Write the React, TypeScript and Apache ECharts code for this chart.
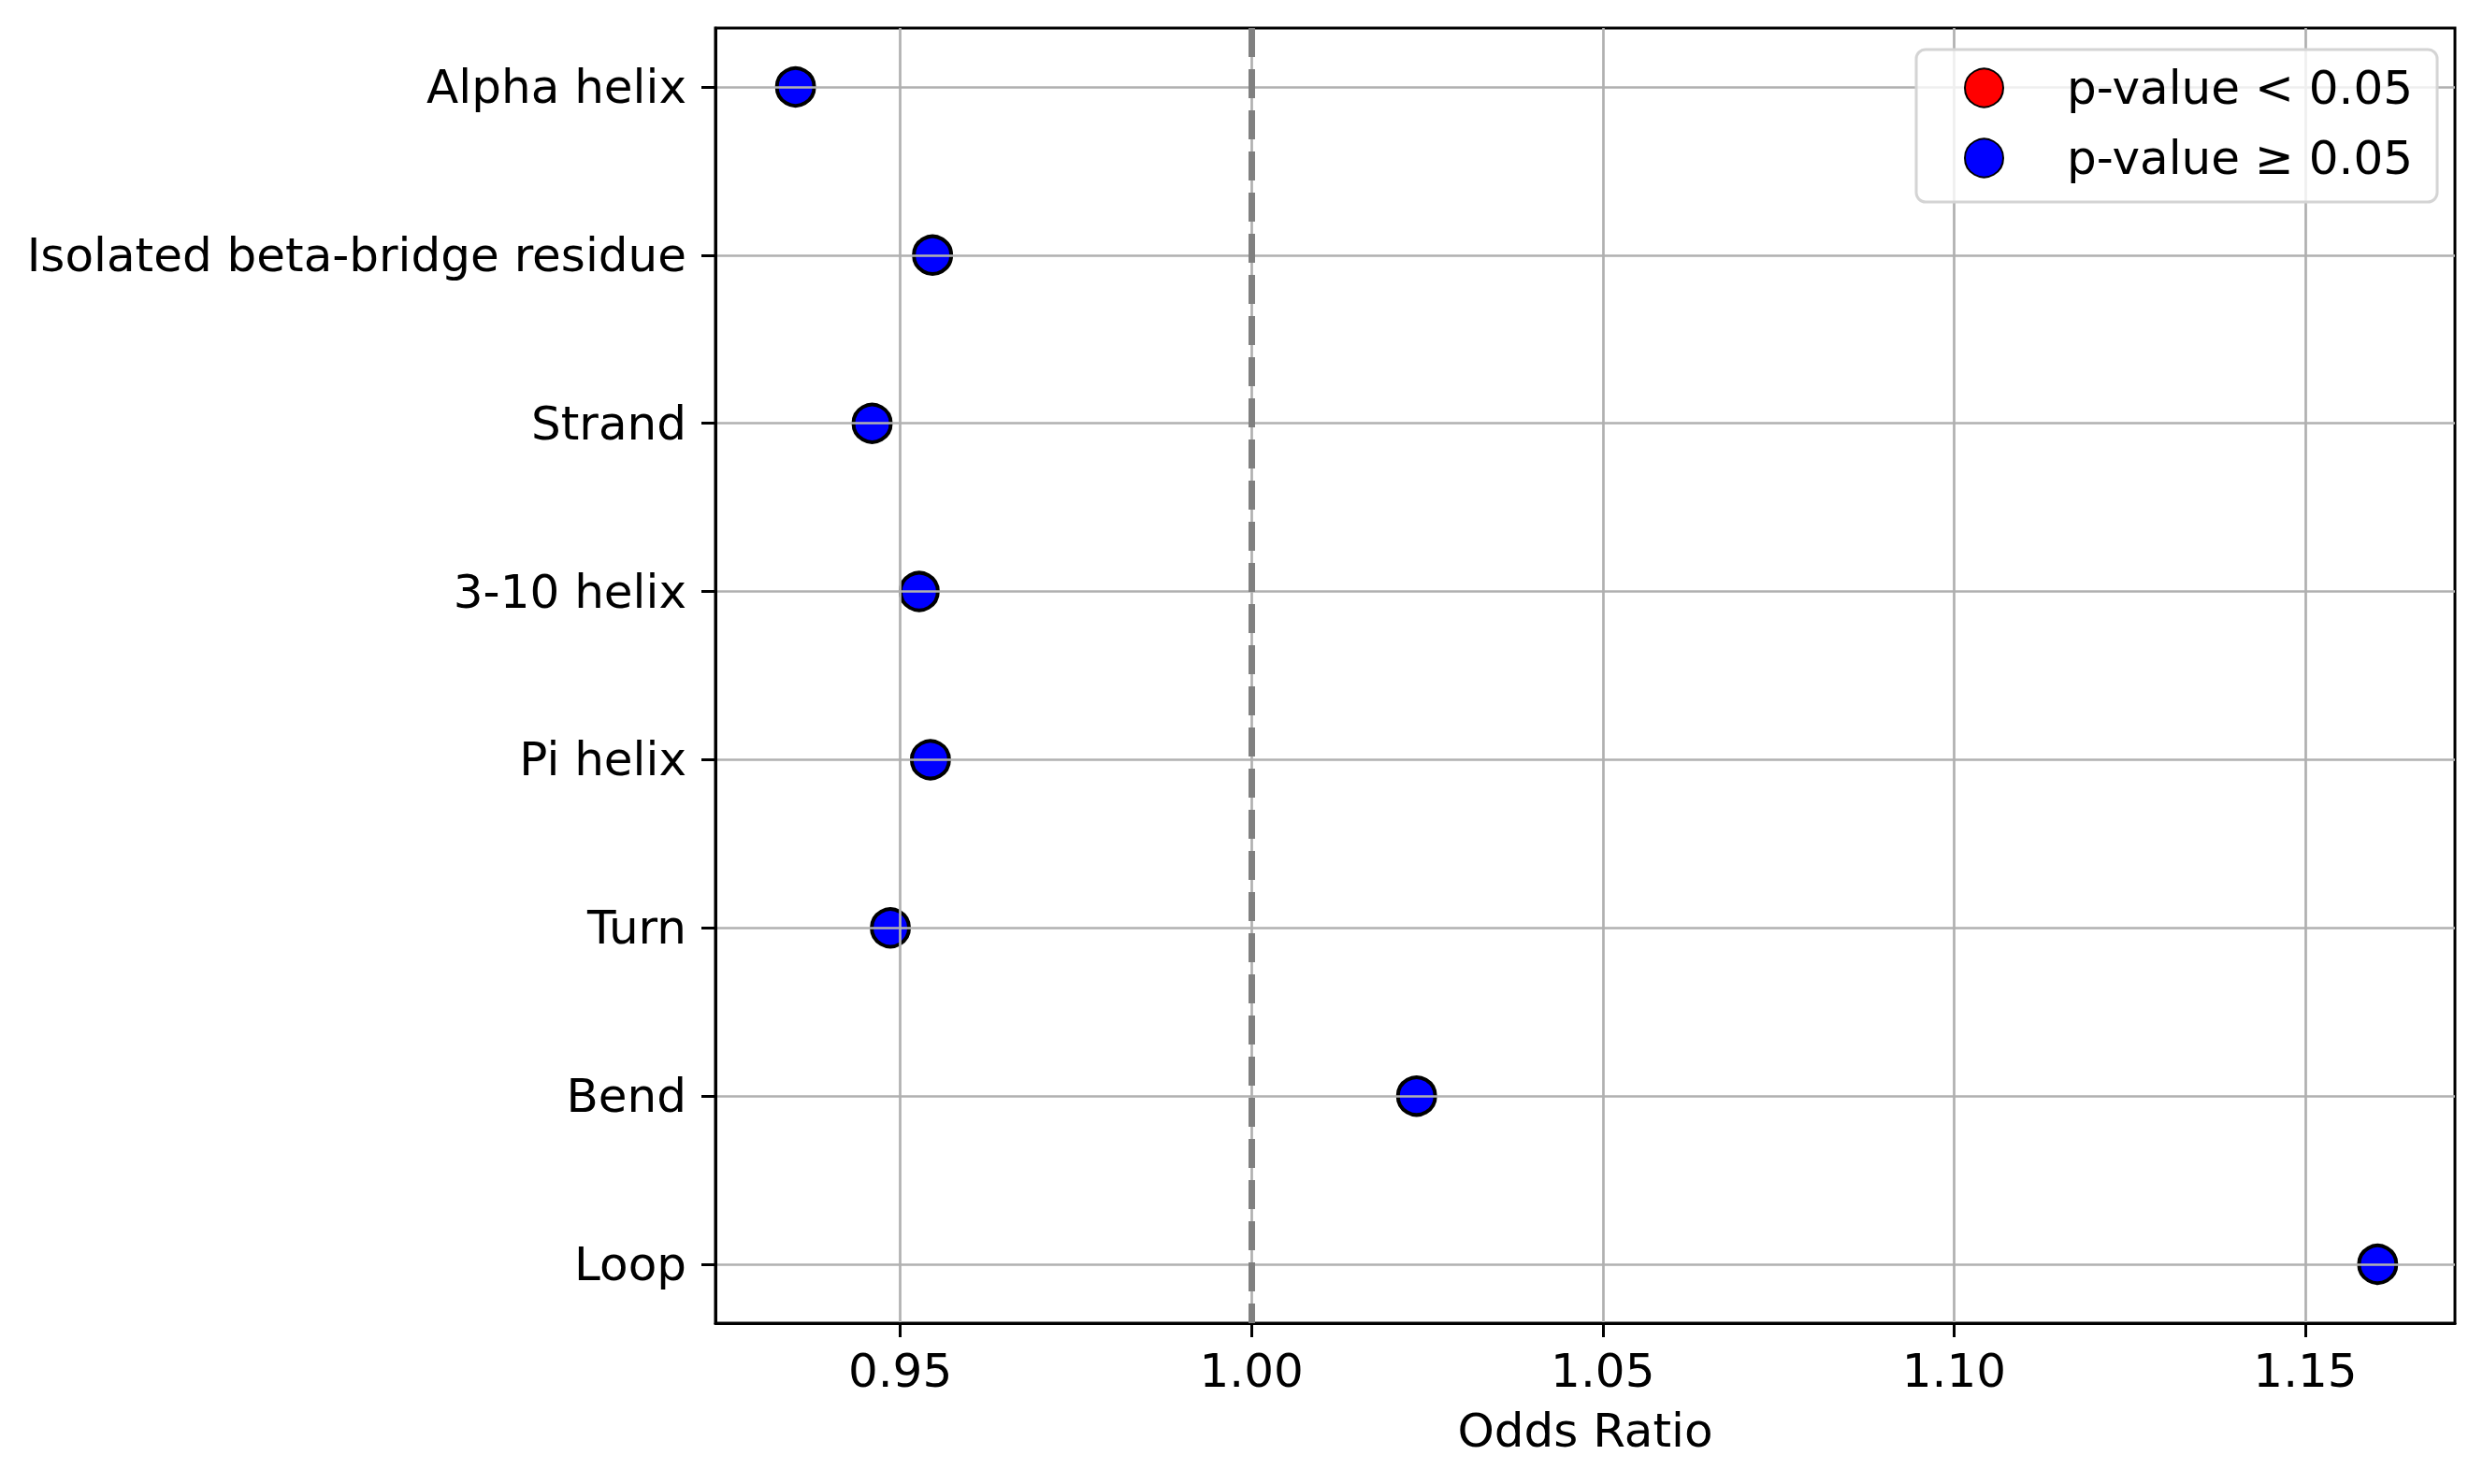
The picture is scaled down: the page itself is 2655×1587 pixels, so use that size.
import React, { useEffect, useRef } from "react";
import * as echarts from "echarts";

const categories = [
  "Alpha helix",
  "Isolated beta-bridge residue",
  "Strand",
  "3-10 helix",
  "Pi helix",
  "Turn",
  "Bend",
  "Loop",
];
const oddsRatios = [0.9351, 0.9546, 0.946, 0.9527, 0.9543, 0.9486, 1.0235, 1.1603];
const xTicks = [0.95, 1.0, 1.05, 1.1, 1.15];
const xTickLabels = ["0.95", "1.00", "1.05", "1.10", "1.15"];
const referenceLine = 1.0;
const legendNames = ["p-value < 0.05", "p-value \u2265 0.05"];
const significantPoints: number[][] = [];

const FONT = "DejaVu Sans";

export default function App() {
  const ref = useRef<HTMLDivElement>(null);
  useEffect(() => {
    if (!ref.current) return;
    const chart = echarts.init(ref.current, null, { renderer: "svg" });
    const yIdx = categories.map((_, i) => i);
    const option = {
      animation: false,
      backgroundColor: "#ffffff",
      textStyle: { fontFamily: FONT },
      grid: {
        left: 765,
        top: 30,
        width: 1860,
        height: 1385,
        show: true,
        borderColor: "#000000",
        borderWidth: 3,
        backgroundColor: "transparent",
      },
      legend: {
        data: legendNames,
        orient: "vertical",
        left: 2049,
        top: 53,
        padding: [16, 26, 22, 51],
        itemWidth: 41,
        itemHeight: 41,
        itemGap: 25,
        icon: "circle",
        selectedMode: false,
        backgroundColor: "rgba(255,255,255,0.8)",
        borderColor: "#d4d4d4",
        borderWidth: 3,
        borderRadius: 10,
        textStyle: {
          fontFamily: FONT,
          fontSize: 50,
          color: "#000000",
          lineHeight: 41,
          padding: [0, 0, 0, 63],
        },
        z: 10,
      },
      xAxis: {
        type: "value",
        min: 0.9237,
        max: 1.1713,
        z: 3,
        name: "Odds Ratio",
        nameLocation: "middle",
        nameGap: 90,
        nameTextStyle: { fontFamily: FONT, fontSize: 50, color: "#000000" },
        axisLine: { show: true, onZero: false, lineStyle: { color: "#000000", width: 3 } },
        axisTick: {
          show: true,
          length: 15,
          inside: false,
          customValues: xTicks,
          lineStyle: { color: "#000000", width: 3 },
        },
        axisLabel: {
          show: true,
          customValues: xTicks,
          margin: 26,
          fontFamily: FONT,
          fontSize: 50,
          color: "#000000",
          formatter: (v: number) => {
            const i = xTicks.findIndex((t) => Math.abs(t - v) < 1e-9);
            return i >= 0 ? xTickLabels[i] : "";
          },
        },
        splitLine: {
          show: true,
          customValues: xTicks,
          lineStyle: { color: "#b0b0b0", width: 2.7 },
        },
      },
      yAxis: {
        type: "value",
        inverse: true,
        min: -0.35,
        max: 7.35,
        z: 3,
        axisLine: { show: true, onZero: false, lineStyle: { color: "#000000", width: 3 } },
        axisTick: {
          show: true,
          length: 15,
          inside: false,
          customValues: yIdx,
          lineStyle: { color: "#000000", width: 3 },
        },
        axisLabel: {
          show: true,
          customValues: yIdx,
          margin: 31,
          fontFamily: FONT,
          fontSize: 50,
          color: "#000000",
          formatter: (v: number) => categories[Math.round(v)] ?? "",
        },
        splitLine: {
          show: true,
          customValues: yIdx,
          lineStyle: { color: "#b0b0b0", width: 2.7 },
        },
      },
      series: [
        {
          name: legendNames[0],
          type: "scatter",
          data: significantPoints,
          symbol: "circle",
          symbolSize: 40,
          itemStyle: { color: "#ff0000", borderColor: "#000000", borderWidth: 4, opacity: 1 },
          z: 2,
        },
        {
          name: legendNames[1],
          type: "scatter",
          data: oddsRatios.map((v, i) => [v, i]),
          symbol: "circle",
          symbolSize: 40,
          itemStyle: { color: "#0000ff", borderColor: "#000000", borderWidth: 4, opacity: 1 },
          z: 2,
          markLine: {
            silent: true,
            symbol: ["none", "none"],
            label: { show: false },
            z: 5,
            lineStyle: { color: "#808080", width: 7, type: [31, 13] },
            data: [{ xAxis: referenceLine }],
          },
        },
      ],
    };
    chart.setOption(option as any);
    return () => chart.dispose();
  }, []);
  return (
    <div
      ref={ref}
      style={{ position: "absolute", left: 0, top: 0, width: 2655, height: 1587 }}
    />
  );
}
